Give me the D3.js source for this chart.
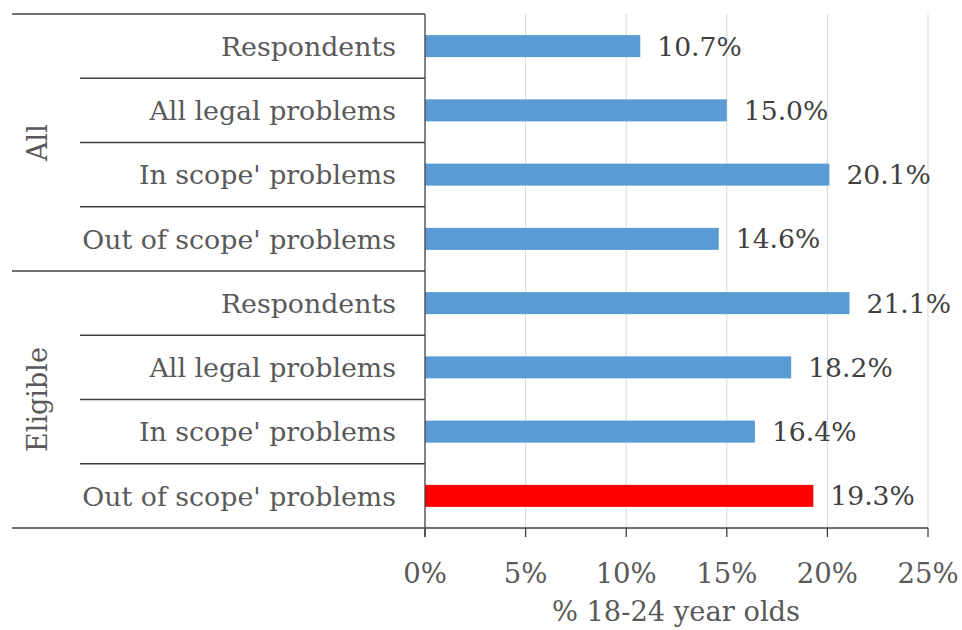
<!DOCTYPE html>
<html><head><meta charset="utf-8">
<script src="https://cdn.jsdelivr.net/npm/d3@7/dist/d3.min.js"></script>
<style>body{margin:0;background:#fff}svg{display:block}</style>
</head><body><svg id="c" width="962" height="630"></svg>
<script>
const groups = ["All", "Eligible"];
const categories = ["Respondents", "All legal problems", "In scope' problems", "Out of scope' problems",
                    "Respondents", "All legal problems", "In scope' problems", "Out of scope' problems"];
const groupOf = [0,0,0,0,1,1,1,1];
const values = [10.7, 15.0, 20.1, 14.6, 21.1, 18.2, 16.4, 19.3];
const highlight = [false,false,false,false,false,false,false,true];
const xTicks = [0,5,10,15,20,25];
const xTitle = "% 18-24 year olds";

const svg = d3.select("#c");
const font = "'DejaVu Serif', serif";
const pL = 425, pR = 928, pT = 14, pB = 528;
const x = d3.scaleLinear().domain([0,25]).range([pL,pR]);
const y = d3.scaleBand().domain(d3.range(categories.length)).range([pT,pB]);
const rowTop = i => i === categories.length ? pB : y(i);
const rowH = y.bandwidth();
const barH = 22;

// gridlines
svg.append("g").selectAll("line").data(xTicks.slice(1)).join("line")
  .attr("x1", d=>x(d)).attr("x2", d=>x(d)).attr("y1", pT).attr("y2", pB)
  .attr("stroke", "#d9d9d9").attr("stroke-width", 1);

// bars
svg.append("g").selectAll("rect").data(values).join("rect")
  .attr("x", x(0)).attr("y", (d,i)=>y(i)+rowH/2-barH/2)
  .attr("width", d=>x(d)-x(0)).attr("height", barH)
  .attr("fill", (d,i)=>highlight[i] ? "#ff0000" : "#5b9bd5");

// value labels
svg.append("g").selectAll("text").data(values).join("text")
  .attr("x", d=>x(d)+17).attr("y", (d,i)=>y(i)+rowH/2)
  .attr("dy", "0.36em").attr("font-family", font).attr("font-size", 26.6)
  .attr("fill", "#404040").text(d=>d.toFixed(1)+"%");

// category labels
svg.append("g").selectAll("text").data(categories).join("text")
  .attr("x", 396).attr("y", (d,i)=>y(i)+rowH/2)
  .attr("dy", "0.36em").attr("text-anchor", "end").attr("font-family", font).attr("font-size", 26.8)
  .attr("fill", "#595959").text(d=>d);

// table lines
const lineColor = "#404040";
const seps = d3.range(categories.length+1);
svg.append("g").selectAll("line").data(seps).join("line")
  .attr("x1", i => (i===0 || i===categories.length || groupOf[i]!==groupOf[i-1]) ? 12 : 80)
  .attr("x2", pL).attr("y1", i=>rowTop(i)).attr("y2", i=>rowTop(i))
  .attr("stroke", lineColor).attr("stroke-width", 1.3);

// group labels
groups.forEach((g,gi)=>{
  const idx = d3.range(categories.length).filter(i=>groupOf[i]===gi);
  const cy = (rowTop(idx[0]) + rowTop(idx[idx.length-1]+1))/2;
  svg.append("text").attr("transform", `translate(37,${cy}) rotate(-90)`)
    .attr("dy","0.36em").attr("text-anchor","middle").attr("font-family", font).attr("font-size", 27)
    .attr("fill","#595959").text(g);
});

// axes
svg.append("line").attr("x1", pL).attr("x2", pL).attr("y1", pT).attr("y2", pB+9)
  .attr("stroke", lineColor).attr("stroke-width", 1.3);
svg.append("line").attr("x1", pL).attr("x2", pR).attr("y1", pB).attr("y2", pB)
  .attr("stroke", lineColor).attr("stroke-width", 1.3);
svg.append("g").selectAll("line").data(xTicks).join("line")
  .attr("x1", d=>x(d)).attr("x2", d=>x(d)).attr("y1", pB).attr("y2", pB+9)
  .attr("stroke", lineColor).attr("stroke-width", 1.3);
svg.append("g").selectAll("text").data(xTicks).join("text")
  .attr("x", d=>x(d)).attr("y", 573).attr("dy","0.36em").attr("text-anchor","middle")
  .attr("font-family", font).attr("font-size", 27.5).attr("fill","#595959").text(d=>d+"%");
svg.append("text").attr("x", 676).attr("y", 611).attr("dy","0.36em").attr("text-anchor","middle")
  .attr("font-family", font).attr("font-size", 27.3).attr("fill","#595959").text(xTitle);
</script></body></html>
